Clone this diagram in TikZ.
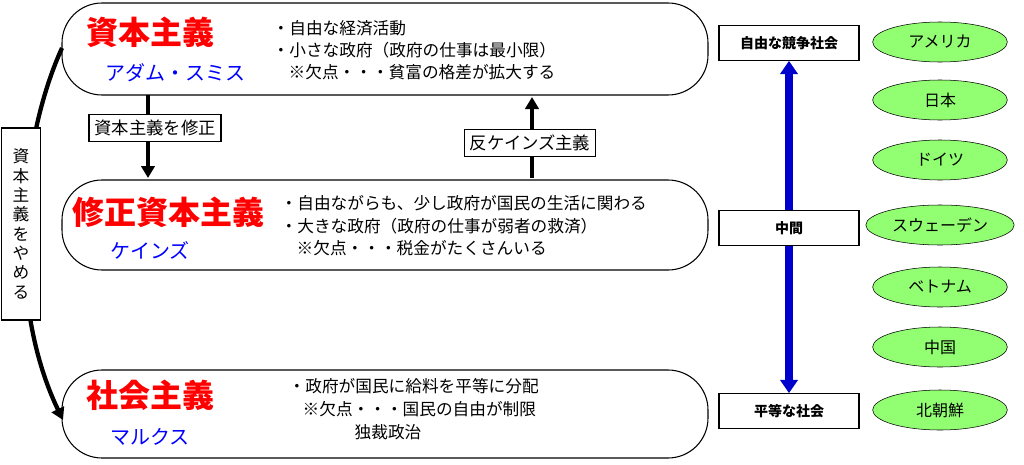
\documentclass[tikz,border=0pt]{standalone}
\usepackage{fontspec}
\setmainfont{Noto Sans CJK JP}
\usetikzlibrary{arrows.meta,shapes.geometric}
\begin{document}
\begin{tikzpicture}[x=0.75pt,y=-0.75pt,
  big/.style={draw,line width=0.8pt,rounded corners=30pt},
  lab/.style={draw,line width=0.8pt,fill=white,inner sep=4pt,font=\fontsize{13}{15}\selectfont},
  ttl/.style={text=red,font=\fontsize{24}{26}\selectfont\bfseries},
  nm/.style={text=blue,font=\fontsize{15}{17}\selectfont},
  txt/.style={anchor=west,font=\fontsize{12.5}{14}\selectfont},
  side/.style={draw,line width=0.8pt,fill=white,minimum width=105pt,minimum height=26pt,font=\fontsize{10.5}{12}\selectfont\bfseries},
  cty/.style={ellipse,draw,fill=green!70!lime!55,minimum width=101pt,minimum height=30pt,font=\fontsize{12}{14}\selectfont},
  arr/.style={line width=3.2pt,-{Triangle[length=9pt,width=10pt]}}]
\useasboundingbox (0,0) rectangle (1024,464);
\draw[big] (62,3) rectangle (708,95);
\draw[big] (62,180) rectangle (708,270);
\draw[big] (62,370) rectangle (708,458);
\node[ttl] (t1) at (150,32) {資本主義};
\node[nm] (n1) at (175,73) {アダム・スミス};
\node[txt] at (268,28) {・自由な経済活動};
\node[txt] at (268,50) {・小さな政府（政府の仕事は最小限）};
\node[txt] at (284,72) {※欠点・・・貧富の格差が拡大する};
\node[ttl] (t2) at (168,212) {修正資本主義};
\node[nm] (n2) at (150,250) {ケインズ};
\node[txt] at (276,203) {・自由ながらも、少し政府が国民の生活に関わる};
\node[txt] at (276,226) {・大きな政府（政府の仕事が弱者の救済）};
\node[txt] at (292,248) {※欠点・・・税金がたくさんいる};
\node[ttl] (t3) at (150,395) {社会主義};
\node[nm] (n3) at (150,437) {マルクス};
\node[txt] at (284,386) {・政府が国民に給料を平等に分配};
\node[txt] at (298,409) {※欠点・・・国民の自由が制限};
\node[txt] at (350,432) {独裁政治};
\coordinate (a1) at (148,95); \coordinate (b1) at (148,178);
\draw[arr] (a1) -- (b1);
\node[lab] (m1) at (155,128) {資本主義を修正};
\coordinate (a2) at (532,178); \coordinate (b2) at (532,97);
\draw[arr] (a2) -- (b2);
\node[lab] (m2) at (530,143) {反ケインズ主義};
\coordinate (c1) at (62,48); \coordinate (c2) at (63,420);
\draw[arr] (c1) .. controls (20,140) and (5,300) .. (c2);
\node[draw,line width=0.8pt,fill=white,minimum width=29pt,minimum height=144pt,inner sep=2pt,font=\fontsize{12.5}{14.5}\selectfont,align=center] (v) at (21,224) {資\\本\\主\\義\\を\\や\\め\\る};
\node[side] (s1) at (789,43) {自由な競争社会};
\node[side] (s2) at (789,228) {中間};
\node[side] (s3) at (789,411) {平等な社会};
\draw[line width=6pt,blue!80!black,{Triangle[length=10pt,width=13pt]}-{Triangle[length=10pt,width=13pt]}] (s1) -- (s3);
\node[side] at (789,228) {中間};
\foreach \t/\y [count=\i] in {アメリカ/42,日本/100,ドイツ/160,スウェーデン/225,ベトナム/287,中国/347,北朝鮮/410}
  \node[cty] (e\i) at (940,\y) {\t};
\end{tikzpicture}
\end{document}
